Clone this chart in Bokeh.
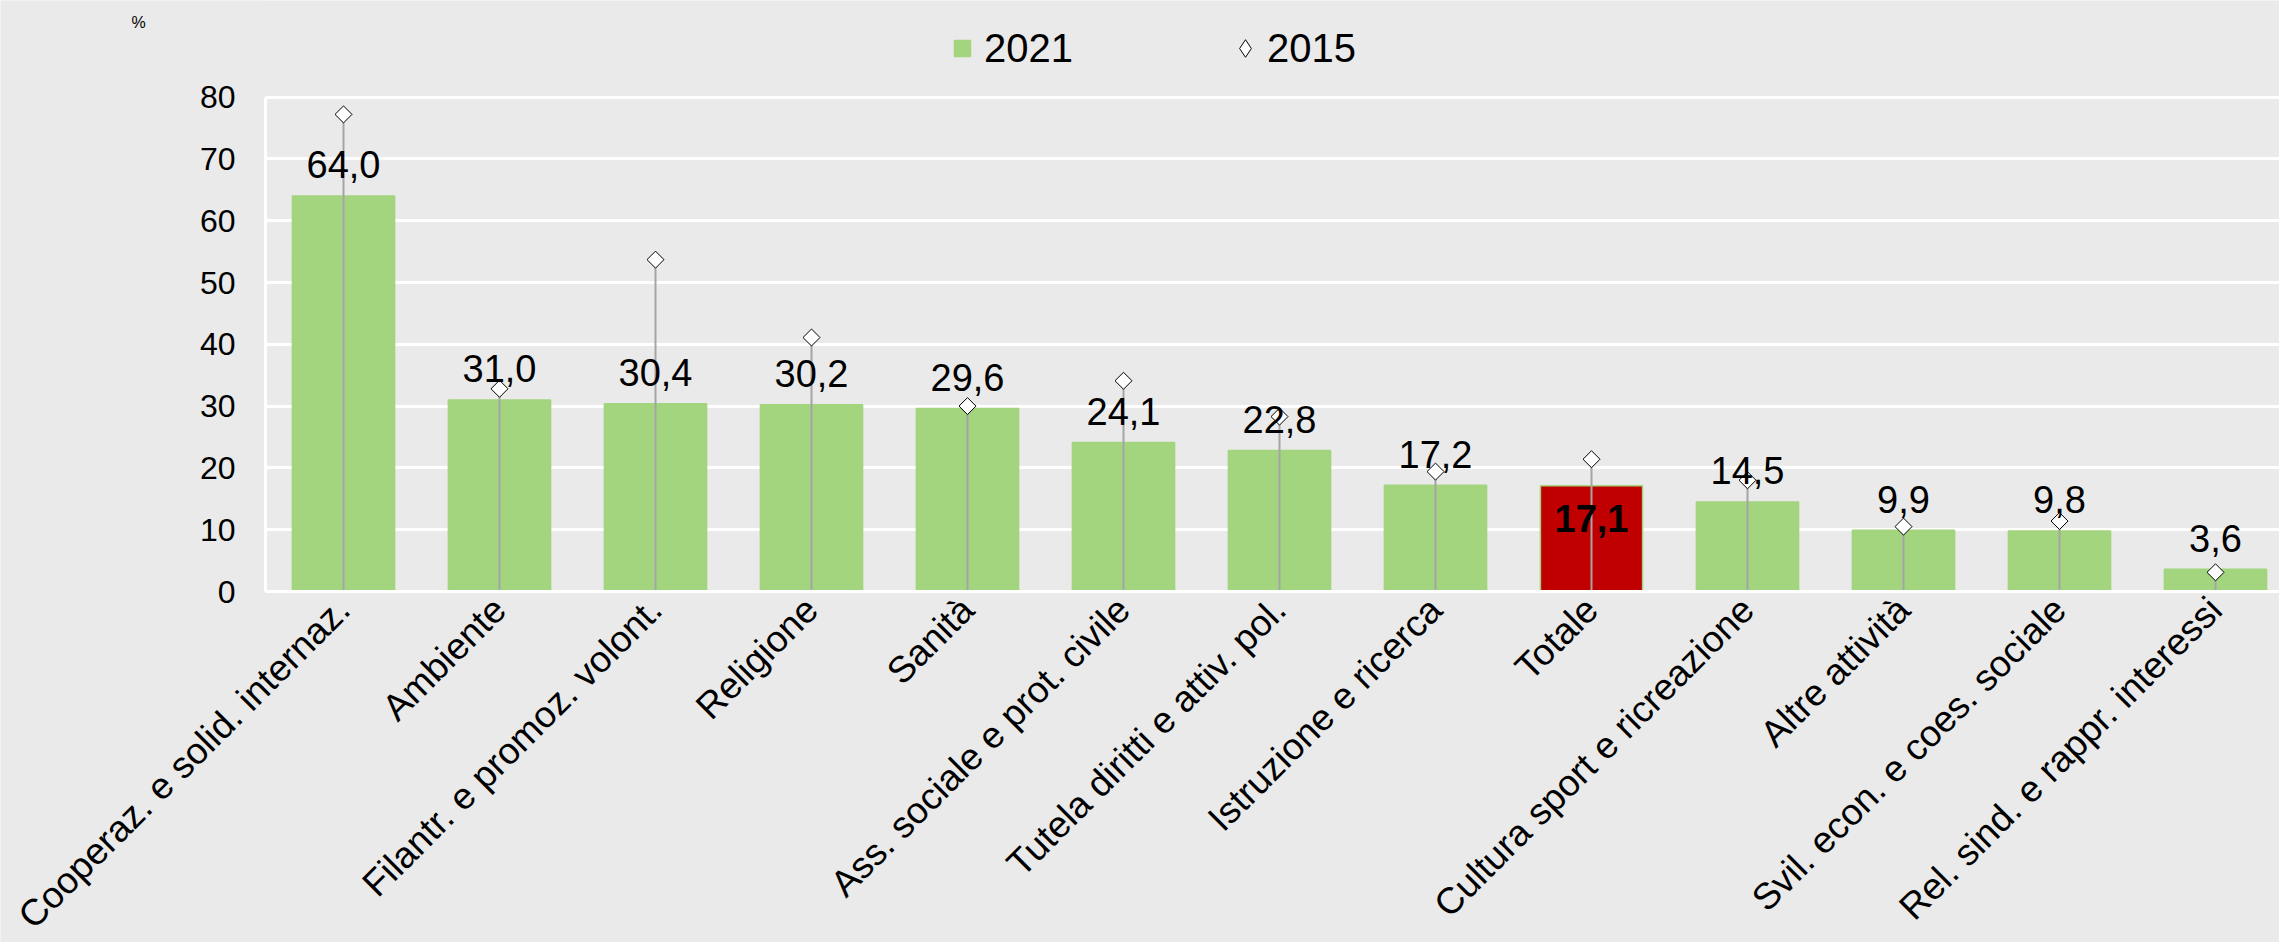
import math
from bokeh.plotting import figure
from bokeh.models import (ColumnDataSource, Range1d, FixedTicker, Legend, LegendItem, Label,
                          BoxAnnotation)
from bokeh.core.properties import value
from bokeh.embed import file_html
from bokeh.resources import INLINE

categories = ["Cooperaz. e solid. internaz.", "Ambiente", "Filantr. e promoz. volont.",
              "Religione", "Sanità", "Ass. sociale e prot. civile",
              "Tutela diritti e attiv. pol.", "Istruzione e ricerca", "Totale",
              "Cultura sport e ricreazione", "Altre attività",
              "Svil. econ. e coes. sociale", "Rel. sind. e rappr. interessi"]
v2021 = [64.0, 31.0, 30.4, 30.2, 29.6, 24.1, 22.8, 17.2, 17.1, 14.5, 9.9, 9.8, 3.6]
v2015 = [77.2, 32.8, 53.7, 41.1, 30.0, 34.1, 28.3, 19.4, 21.4, 18.0, 10.5, 11.4, 3.1]
total_label = "Totale"
y_ticks = [0, 10, 20, 30, 40, 50, 60, 70, 80]

FONT = "Liberation Sans"
BG = "#EAEAEA"
GREEN = "#A3D47E"
RED = "#C00000"

# layout (pixels)
W, H = 2279, 942
ZERO_PX = 591               # pixel row of value 0
PX_PER_UNIT_Y = 6.18        # pixels per 1 %
PX_PER_CAT = 156            # pixels per category
AXIS_X_PX = 265             # pixel column of the value axis

idx = list(range(len(categories)))
is_total = [c == total_label for c in categories]
fills = [RED if t else GREEN for t in is_total]
labels = [f"{v:.1f}".replace(".", ",") for v in v2021]

src = ColumnDataSource(dict(x=idx, top=v2021, old=v2015, fill=fills,
                            zero=[0] * len(idx)))
src_norm = ColumnDataSource(dict(x=[i for i in idx if not is_total[i]],
                                 y=[v2021[i] for i in idx if not is_total[i]],
                                 lab=[labels[i] for i in idx if not is_total[i]]))
src_tot = ColumnDataSource(dict(x=[i for i in idx if is_total[i]],
                                y=[v2021[i] for i in idx if is_total[i]],
                                lab=[labels[i] for i in idx if is_total[i]]))

x0 = -0.5 - AXIS_X_PX / PX_PER_CAT
x1 = -0.5 + (W - AXIS_X_PX) / PX_PER_CAT
ytop = ZERO_PX / PX_PER_UNIT_Y
ybot = -(H - ZERO_PX) / PX_PER_UNIT_Y

p = figure(width=W, height=H, output_backend="svg", toolbar_location=None,
           x_range=Range1d(x0, x1), y_range=Range1d(ybot, ytop),
           min_border_left=0, min_border_top=0, min_border_right=0,
           min_border_bottom=0)
p.background_fill_color = BG
p.border_fill_color = BG
p.outline_line_color = None

# grid
p.xgrid.grid_line_color = None
p.ygrid.grid_line_color = "white"
p.ygrid.grid_line_width = 3
p.ygrid.ticker = FixedTicker(ticks=y_ticks)
# hide grid left of the value axis
p.add_layout(BoxAnnotation(right=-0.5, fill_color=BG, fill_alpha=1, line_color=None,
                           level="underlay"))

bars = p.vbar(x="x", top="top", width=0.655, bottom=0, source=src,
              fill_color="fill", line_color=GREEN, line_width=1.5)
p.segment(x0="x", y0="zero", x1="x", y1="old", source=src,
          line_color="#A5A5A5", line_width=2)
# 2015 diamonds (legend glyph comes from this renderer; it sits inside the squares below)
pts_leg = p.scatter(x="x", y="old", source=src, marker="diamond", size=12,
                    fill_color="white", line_color="black", line_width=1)
p.scatter(x="x", y="old", source=src, marker="square", size=12,
          angle=math.pi / 4, fill_color="white", line_color="black", line_width=1)

p.text(x="x", y="y", text="lab", source=src_norm, text_align="center",
       text_baseline="middle", y_offset=-31, text_font=value(FONT),
       text_font_size="38px", text_color="black")
p.text(x="x", y="y", text="lab", source=src_tot, text_align="center",
       text_baseline="middle", y_offset=33, text_font=value(FONT),
       text_font_size="38px", text_font_style="bold", text_color="black")

# y axis
p.yaxis.fixed_location = -0.5
p.yaxis.bounds = (0, 80)
p.yaxis.ticker = FixedTicker(ticks=y_ticks)
p.yaxis.axis_line_color = "white"
p.yaxis.axis_line_width = 3
p.yaxis.major_tick_line_color = None
p.yaxis.minor_tick_line_color = None
p.yaxis.major_tick_out = 0
p.yaxis.major_tick_in = 0
p.yaxis.major_label_standoff = 30
p.yaxis.major_label_text_font = FONT
p.yaxis.major_label_text_font_size = "32px"
p.yaxis.major_label_text_color = "black"

# x axis
p.xaxis.fixed_location = 0
p.xaxis.bounds = (-0.5, 13)
p.xaxis.ticker = FixedTicker(ticks=idx)
p.xaxis.major_label_overrides = {i: c for i, c in zip(idx, categories)}
p.xaxis.major_label_orientation = math.pi / 4
p.xaxis.axis_line_color = "white"
p.xaxis.axis_line_width = 3
p.xaxis.major_tick_line_color = None
p.xaxis.minor_tick_line_color = None
p.xaxis.major_tick_out = 0
p.xaxis.major_tick_in = 0
p.xaxis.major_label_standoff = 12
p.xaxis.major_label_text_font = FONT
p.xaxis.major_label_text_font_size = "37px"
p.xaxis.major_label_text_color = "black"

LEG_CY = 48  # legend vertical centre, pixels from top
common = dict(orientation="horizontal", label_text_font=FONT, label_text_font_size="40px",
              label_text_color="black", label_height=48, padding=0, margin=0,
              border_line_color=None, background_fill_alpha=0)
legend_a = Legend(items=[LegendItem(label="2021", renderers=[bars])],
                  location=(952, H - LEG_CY - 24), glyph_width=20, glyph_height=20,
                  label_standoff=12, **common)
legend_b = Legend(items=[LegendItem(label="2015", renderers=[pts_leg])],
                  location=(1223, H - LEG_CY - 24), glyph_width=44, glyph_height=44,
                  label_standoff=0, **common)
p.add_layout(legend_a, "center")
p.add_layout(legend_b, "center")

p.add_layout(Label(x=-0.5 - 127 / PX_PER_CAT, y=(ZERO_PX - 22) / PX_PER_UNIT_Y,
                   text="%", text_font=FONT, text_font_size="16px",
                   text_color="black", text_align="center", text_baseline="middle"))

open("out.html", "w").write(file_html(p, INLINE))
